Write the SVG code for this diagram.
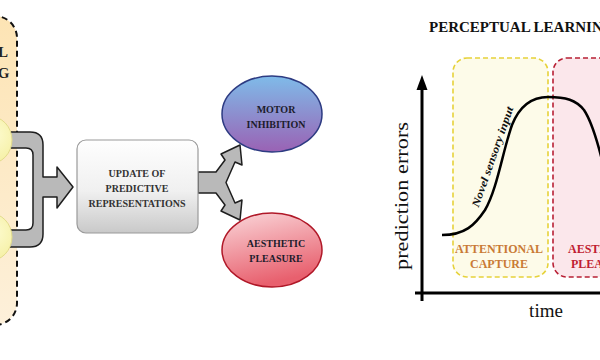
<svg xmlns="http://www.w3.org/2000/svg" width="600" height="360" viewBox="0 0 600 360">
<defs>
<linearGradient id="gBox" x1="0" y1="0" x2="0" y2="1"><stop offset="0" stop-color="#fefefe"/><stop offset="0.55" stop-color="#f0f0f0"/><stop offset="1" stop-color="#c9c9c9"/></linearGradient>
<linearGradient id="gMotor" x1="0" y1="0" x2="0" y2="1"><stop offset="0" stop-color="#7fbbe9"/><stop offset="1" stop-color="#9a62b4"/></linearGradient>
<linearGradient id="gPleas" x1="0" y1="0" x2="0.3" y2="1"><stop offset="0" stop-color="#fad7da"/><stop offset="1" stop-color="#e8606e"/></linearGradient>
<linearGradient id="gPanel" x1="0" y1="0" x2="0" y2="1"><stop offset="0" stop-color="#fde4b4"/><stop offset="1" stop-color="#fdf0da"/></linearGradient>
<radialGradient id="gCirc" cx="0.6" cy="0.4" r="0.7"><stop offset="0" stop-color="#fdfbd0"/><stop offset="1" stop-color="#f4ee9c"/></radialGradient>
</defs>
<style>
.b{font-family:"Liberation Serif","Times New Roman",serif;font-weight:bold}
.r{font-family:"Liberation Serif","Times New Roman",serif}
.arrow{fill:#b9b9b9;stroke:#1e1e1e;stroke-width:1.5;stroke-linejoin:round}
.axis{stroke:#000;stroke-width:3;fill:none}
</style>

<g id="panel-left">
<rect x="-30" y="16" width="47" height="309" rx="22" fill="url(#gPanel)" stroke="#111" stroke-width="2" stroke-dasharray="6 4"/>
<text class="b" x="8" y="57" font-size="15" fill="#222" text-anchor="end">L</text>
<text class="b" x="9.5" y="78" font-size="15" fill="#222" text-anchor="end">G</text>
</g>

<g id="connectors">
<path class="arrow" d="M 8,132 H 30 Q 43,132 43,145 V 177 H 57 V 167 L 73,187 L 57,208 V 197 H 43 V 234 Q 43,247 30,247 H 8 V 230 H 26 Q 33,230 33,223 V 155 Q 33,148 26,148 H 8 Z"/>
<path class="arrow" d="M 198,172 H 216 L 225,160 L 221,154 L 240,145 L 242,165 L 235,162 L 226,182.5 L 235,203 L 242,200 L 240,220 L 221,211 L 225,205 L 216,193 H 198 Z"/>
</g>

<g id="circle-top"><ellipse cx="-11" cy="140" rx="23" ry="24" fill="url(#gCirc)" stroke="#e3dc8c" stroke-width="1"/></g>
<g id="circle-bottom"><ellipse cx="-11" cy="237" rx="23" ry="24" fill="url(#gCirc)" stroke="#e3dc8c" stroke-width="1"/></g>

<g id="update">
<rect x="77" y="140" width="121" height="93" rx="9" fill="url(#gBox)" stroke="#9a9a9a" stroke-width="1.2"/>
<text class="b" font-size="10" fill="#333" text-anchor="middle"><tspan x="137" y="177">UPDATE OF</tspan><tspan x="137" y="192">PREDICTIVE</tspan><tspan x="137" y="207">REPRESENTATIONS</tspan></text>
</g>

<g id="motor">
<ellipse cx="272" cy="114" rx="50" ry="38" fill="url(#gMotor)" stroke="#2d3b82" stroke-width="1.5"/>
<text class="b" font-size="10" fill="#1c1c2c" text-anchor="middle"><tspan x="276" y="113">MOTOR</tspan><tspan x="276" y="128">INHIBITION</tspan></text>
</g>

<g id="pleasure">
<ellipse cx="272" cy="250" rx="50" ry="37" fill="url(#gPleas)" stroke="#b01828" stroke-width="1.5"/>
<text class="b" font-size="10" fill="#1c1c2c" text-anchor="middle"><tspan x="276" y="247">AESTHETIC</tspan><tspan x="276" y="262">PLEASURE</tspan></text>
</g>

<g id="chart">
<text class="b" x="429" y="32" font-size="15" fill="#111">PERCEPTUAL LEARNING</text>
<rect id="attentional" x="453" y="58" width="95" height="219" rx="14" fill="#fdfbe9" stroke="#e6d23a" stroke-width="1.6" stroke-dasharray="5 3"/>
<rect id="aesthetic" x="553" y="58" width="90" height="219" rx="14" fill="#fbe7eb" stroke="#b82035" stroke-width="1.6" stroke-dasharray="5 3"/>
<text class="b" font-size="12" fill="#c97a35" text-anchor="middle"><tspan x="499" y="253">ATTENTIONAL</tspan><tspan x="499" y="268">CAPTURE</tspan></text>
<text class="b" font-size="12" fill="#c01e32" text-anchor="middle"><tspan x="603" y="253">AESTHETIC</tspan><tspan x="603" y="268">PLEASURE</tspan></text>
<line class="axis" x1="422" y1="301" x2="422" y2="88"/>
<polygon points="416.5,90 427.5,90 422,75" fill="#000"/>
<line class="axis" x1="415" y1="293" x2="600" y2="293"/>
<path d="M 442,235 C 465,235 475,225 485,210 C 497,190 503,150 512,125 C 520,105 532,97 548,97 C 566,97 576,100 584,110 C 592,122 597,140 602,160" fill="none" stroke="#000" stroke-width="2.5"/>
<text class="b" font-style="italic" font-size="11" fill="#111" text-anchor="middle" textLength="106" lengthAdjust="spacingAndGlyphs" transform="translate(496,158) rotate(-70.7)">Novel sensory input</text>
<text class="r" font-size="18" fill="#111" text-anchor="middle" textLength="148" lengthAdjust="spacingAndGlyphs" transform="translate(408,196) rotate(-90)">prediction errors</text>
<text class="r" x="546" y="317" font-size="19" fill="#111" text-anchor="middle">time</text>
</g>
</svg>
